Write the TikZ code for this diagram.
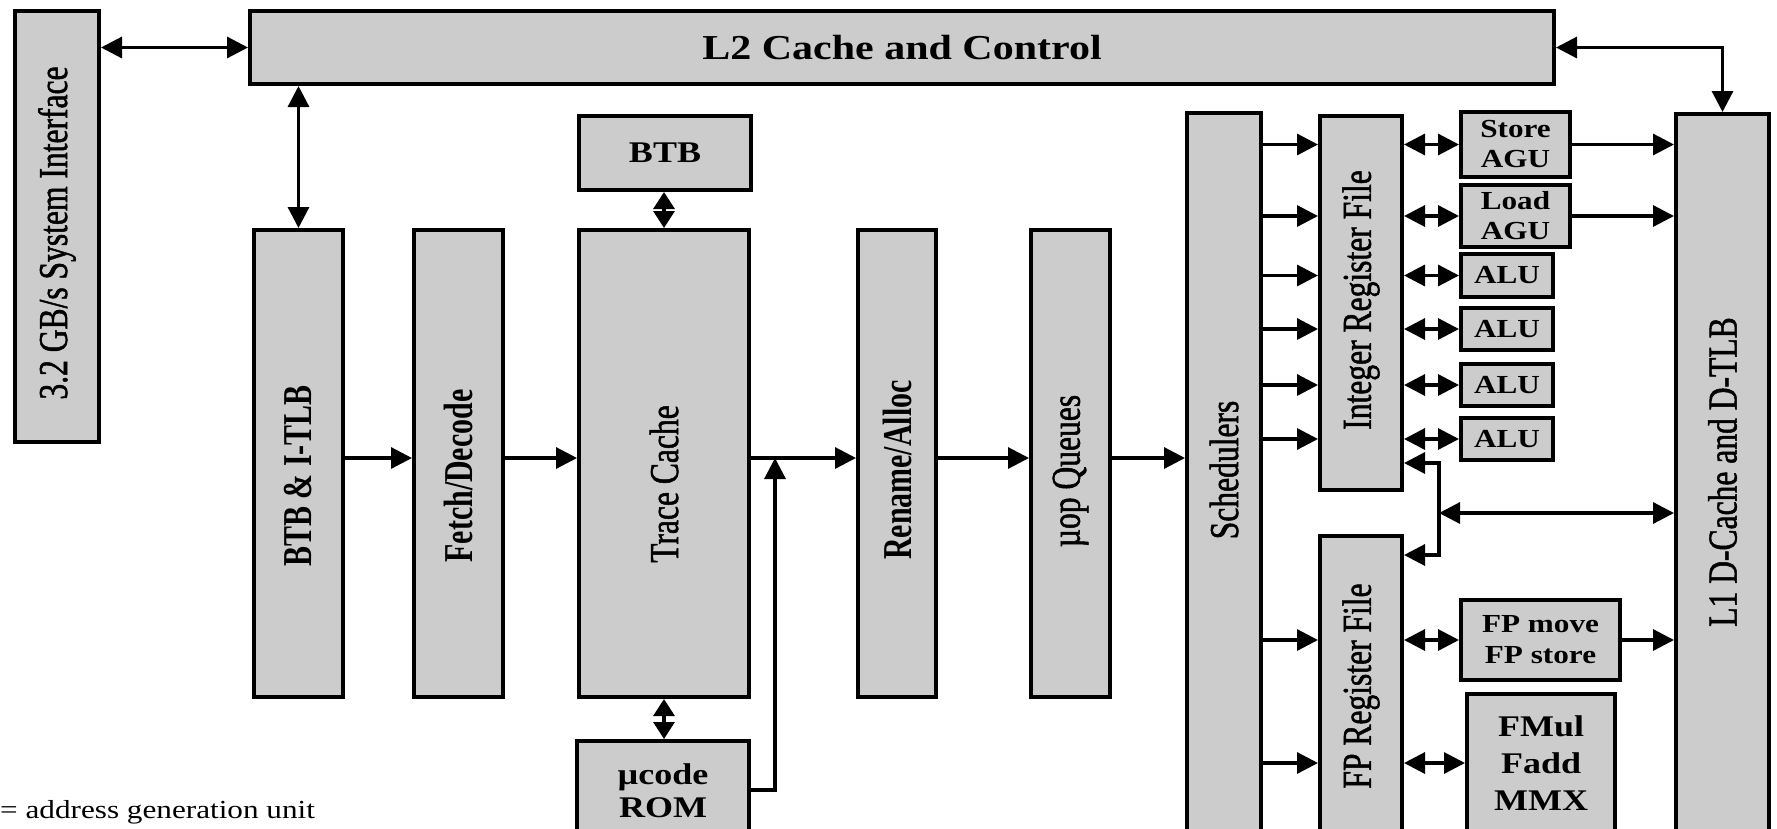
\documentclass[tikz,border=0pt]{standalone}
\usepackage{fontspec}
\setmainfont{Liberation Serif}
% widened face for horizontal labels, narrowed faces for the upright (rotated) ones
\newfontfamily\hfont[FakeStretch=1.2]{Liberation Serif}
\newfontfamily\vfont[FakeStretch=0.73]{Liberation Serif}
\newfontfamily\vmedium[FakeStretch=0.77,FakeBold=1.2]{Liberation Serif}
\usetikzlibrary{arrows.meta}
\definecolor{blockgray}{RGB}{204,204,204}

\begin{document}
\begin{tikzpicture}[x=1pt,y=-1pt,
  block/.style={draw=black, line width=4pt, fill=blockgray, inner sep=0pt, align=center},
  vtext/.style={inner sep=0pt, font=\vfont\bfseries\fontsize{41}{45}\selectfont},
  vtextmed/.style={inner sep=0pt, font=\vmedium\fontsize{41}{45}\selectfont},
  htext/.style 2 args={font=\hfont\bfseries\fontsize{#1}{#2}\selectfont},
  conn/.style={line width=3.2pt, -{Triangle[length=21pt,width=21pt]}},
  biconn/.style={line width=3.2pt, {Triangle[length=21pt,width=21pt]}-{Triangle[length=21pt,width=21pt]}},
  shortbi/.style={line width=3.2pt, {Triangle[length=17pt,width=21pt]}-{Triangle[length=17pt,width=21pt]}}]

\path[use as bounding box] (0,0) rectangle (1777,828);
\clip (0,0) rectangle (1777,828);

% ---- blocks ----
\node[block, minimum width=84pt, minimum height=431pt] (sysif) at (57,226.5) {};
\node[block, htext={35}{40}, minimum width=1304pt, minimum height=73pt] (l2) at (902,47.5)
  {L2 Cache and Control};

\node[block, minimum width=89pt, minimum height=467pt] (btbitlb) at (298.5,463.5) {};
\node[block, minimum width=89pt, minimum height=467pt] (fetch) at (458.5,463.5) {};
\node[block, minimum width=170pt, minimum height=467pt] (trace) at (664,463.5) {};
\node[block, htext={30}{34}, minimum width=172pt, minimum height=74pt] (btb) at (665,153)
  {BTB};
\node[block, htext={30}{33}, minimum width=172pt, minimum height=99pt] (rom) at (663,790.5)
  {µcode\\ROM};
\node[block, minimum width=78pt, minimum height=467pt] (rename) at (897,463.5) {};
\node[block, minimum width=79pt, minimum height=467pt] (queues) at (1070.5,463.5) {};
\node[block, minimum width=74pt, minimum height=737pt] (sched) at (1224,481.5) {};

\node[block, minimum width=82pt, minimum height=374pt] (intrf) at (1361,303) {};
\node[block, minimum width=82pt, minimum height=314pt] (fprf) at (1361,693) {};

\node[block, htext={26}{30}, minimum width=109pt, minimum height=65pt] (store) at (1515.5,144.5)
  {Store\\AGU};
\node[block, htext={26}{30}, minimum width=109pt, minimum height=62pt] (load) at (1515.5,216)
  {Load\\AGU};
\node[block, htext={26}{30}, minimum width=92pt, minimum height=43pt] (alua) at (1507,275.5) {ALU};
\node[block, htext={26}{30}, minimum width=92pt, minimum height=42pt] (alub) at (1507,329) {ALU};
\node[block, htext={26}{30}, minimum width=92pt, minimum height=42pt] (aluc) at (1507,385) {ALU};
\node[block, htext={26}{30}, minimum width=92pt, minimum height=42pt] (alud) at (1507,439) {ALU};
\node[block, htext={26}{31}, minimum width=159pt, minimum height=80pt] (fpmove) at (1540.5,640)
  {FP move\\FP store};
\node[block, htext={30}{37}, minimum width=148pt, minimum height=138pt] (fmul) at (1541,763)
  {FMul\\Fadd\\MMX};

\node[block, minimum width=93pt, minimum height=736pt] (dtlb) at (1722.5,482) {};

% ---- upright labels ----
\node[vtextmed] (sysiftext)  at (57,233)      {\rotatebox{90}{3.2 GB/s System Interface}};
\node[vtext] (btbitlbtext)   at (298.5,476)   {\rotatebox{90}{BTB \& I-TLB}};
\node[vtext] (fetchtext)     at (458.5,476)   {\rotatebox{90}{Fetch/Decode}};
\node[vtextmed] (tracetext)  at (664,484)     {\rotatebox{90}{Trace Cache}};
\node[vtext] (renametext)    at (897,470)     {\rotatebox{90}{Rename/Alloc}};
\node[vtextmed] (queuestext) at (1070.5,471)  {\rotatebox{90}{µop Queues}};
\node[vtextmed] (schedtext)  at (1224,470)    {\rotatebox{90}{Schedulers}};
\node[vtextmed] (intrftext)  at (1361,300)    {\rotatebox{90}{Integer Register File}};
\node[vtextmed] (fprftext)   at (1361,686)    {\rotatebox{90}{FP Register File}};
\node[vtextmed] (dtlbtext)   at (1722.5,472)  {\rotatebox{90}{L1 D-Cache and D-TLB}};

\node[anchor=base west, inner sep=0pt, font=\hfont\fontsize{26}{30}\selectfont] (note) at (0,818)
  {= address generation unit};

% ---- helper points ----
\coordinate (mainline) at (0,458);
\coordinate (merge) at (775,458);
\coordinate (jtop) at (1439,463);
\coordinate (jmid) at (1439,513);
\coordinate (jbot) at (1439,555);

% ---- connectors ----
\draw[biconn] (sysif.east |- l2.west) -- (l2.west);
\draw[biconn] (l2.south -| btbitlb.north) -- (btbitlb.north);
\draw[biconn] (l2.east) -| (dtlb.north);

\draw[conn] (btbitlb.east |- mainline) -- (fetch.west |- mainline);
\draw[conn] (fetch.east |- mainline) -- (trace.west |- mainline);
\draw[conn] (trace.east |- mainline) -- (rename.west |- mainline);
\draw[conn] (rename.east |- mainline) -- (queues.west |- mainline);
\draw[conn] (queues.east |- mainline) -- (sched.west |- mainline);

\draw[shortbi] (trace.north) -- (trace.north |- btb.south);
\draw[shortbi] (trace.south) -- (trace.south |- rom.north);
\draw[conn] (rom.east |- 0,790) -| (merge);

\foreach \u in {store,load,alua,alub,aluc,alud}{
  \draw[conn] (sched.east |- \u.west) -- (intrf.west |- \u.west);
  \draw[biconn] (intrf.east |- \u.west) -- (\u.west);
}
\draw[conn] (store.east) -- (store.east -| dtlb.west);
\draw[conn] (load.east) -- (load.east -| dtlb.west);

\draw[biconn] (intrf.east |- jtop) -- (jtop) -- (jbot) -- (fprf.east |- jbot);
\draw[biconn] (jmid) -- (jmid -| dtlb.west);

\draw[conn] (sched.east |- fpmove.west) -- (fprf.west |- fpmove.west);
\draw[conn] (sched.east |- fmul.west) -- (fprf.west |- fmul.west);
\draw[biconn] (fprf.east |- fpmove.west) -- (fpmove.west);
\draw[biconn] (fprf.east |- fmul.west) -- (fmul.west);
\draw[conn] (fpmove.east) -- (fpmove.east -| dtlb.west);
\end{tikzpicture}
\end{document}
